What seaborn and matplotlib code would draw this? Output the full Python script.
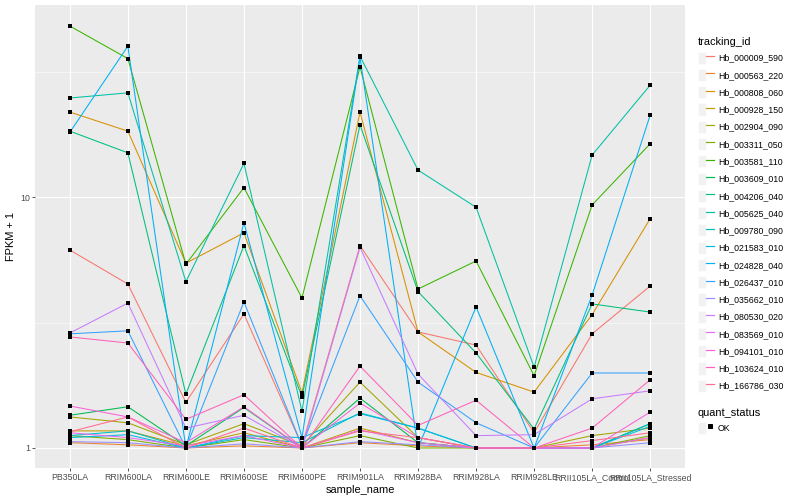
import numpy as np
import pandas as pd
import matplotlib
matplotlib.use('Agg')
import matplotlib.pyplot as plt
from matplotlib.lines import Line2D
from matplotlib.patches import Rectangle
from matplotlib.legend_handler import HandlerTuple
from matplotlib.ticker import NullFormatter
import seaborn as sns

# samples on the x axis, in plot order
samples = ['PB350LA', 'RRIM600LA', 'RRIM600LE', 'RRIM600SE', 'RRIM600PE', 'RRIM901LA',
           'RRIM928BA', 'RRIM928LA', 'RRIM928LE', 'RRII105LA_Control', 'RRII105LA_Stressed']

tracking_ids = ['Hb_000009_590', 'Hb_000563_220', 'Hb_000808_060', 'Hb_000928_150',
                'Hb_002904_090', 'Hb_003311_050', 'Hb_003581_110', 'Hb_003609_010',
                'Hb_004206_040', 'Hb_005625_040', 'Hb_009780_090', 'Hb_021583_010',
                'Hb_024828_040', 'Hb_026437_010', 'Hb_035662_010', 'Hb_080530_020',
                'Hb_083569_010', 'Hb_094101_010', 'Hb_103624_010', 'Hb_166786_030']

# ggplot hue palette for 20 levels
colors = ['#F8766D', '#EA8331', '#D89000', '#C09B00', '#A3A500', '#7CAE00', '#39B600',
          '#00BB4E', '#00BF7D', '#00C1A3', '#00BFC4', '#00BAE0', '#00B0F6', '#35A2FF',
          '#9590FF', '#C77CFF', '#E76BF3', '#FA62DB', '#FF62BC', '#FF6C91']

# FPKM + 1
hb_000009_590 = [6.15, 4.5, 1.52, 3.42, 1.02, 6.4, 2.9, 2.57, 1.15, 2.85, 4.42]
hb_000563_220 = [1.05, 1.03, 1.0, 1.02, 1.0, 1.05, 1.02, 1.0, 1.0, 1.03, 1.08]
hb_000808_060 = [21.8, 18.3, 5.45, 7.2, 1.66, 21.8, 2.9, 2.0, 1.67, 3.4, 8.2]
hb_000928_150 = [1.17, 1.17, 1.02, 1.15, 1.0, 1.2, 1.05, 1.0, 1.0, 1.0, 1.1]
hb_002904_090 = [1.33, 1.26, 1.03, 1.25, 1.02, 1.83, 1.1, 1.0, 1.0, 1.12, 1.2]
hb_003311_050 = [1.12, 1.08, 1.0, 1.08, 1.0, 1.12, 1.0, 1.0, 1.0, 1.0, 1.12]
hb_003581_110 = [48.0, 35.6, 5.4, 10.9, 3.96, 33.0, 4.3, 5.56, 1.94, 9.3, 16.3]
hb_003609_010 = [1.35, 1.46, 1.02, 1.45, 1.0, 1.58, 1.05, 1.0, 1.0, 1.0, 1.25]
hb_004206_040 = [18.3, 15.0, 1.64, 6.4, 1.6, 19.4, 4.2, 2.39, 1.19, 3.75, 3.48]
hb_005625_040 = [24.8, 26.0, 4.6, 13.6, 1.4, 36.4, 12.8, 9.1, 2.1, 14.7, 27.9]
hb_009780_090 = [1.12, 1.17, 1.0, 1.1, 1.05, 1.38, 1.2, 1.0, 1.0, 1.0, 1.25]
hb_021583_010 = [1.1, 1.13, 1.0, 1.12, 1.1, 1.37, 1.2, 1.0, 1.0, 1.0, 1.22]
hb_024828_040 = [18.1, 39.9, 1.0, 7.9, 1.1, 36.0, 1.0, 3.65, 1.0, 4.07, 21.2]
hb_026437_010 = [2.85, 2.93, 1.0, 3.82, 1.02, 4.04, 1.83, 1.26, 1.0, 1.99, 1.99]
hb_035662_010 = [1.06, 1.05, 1.0, 1.04, 1.0, 1.06, 1.03, 1.0, 1.0, 1.0, 1.05]
hb_080530_020 = [2.87, 3.78, 1.2, 1.35, 1.0, 6.3, 1.97, 1.12, 1.13, 1.57, 1.69]
hb_083569_010 = [1.15, 1.1, 1.02, 1.12, 1.0, 1.18, 1.05, 1.0, 1.0, 1.0, 1.1]
hb_094101_010 = [1.47, 1.33, 1.05, 1.46, 1.0, 1.51, 1.1, 1.0, 1.0, 1.0, 1.39]
hb_103624_010 = [2.77, 2.62, 1.3, 1.63, 1.0, 2.12, 1.23, 1.55, 1.0, 1.2, 1.87]
hb_166786_030 = [1.16, 1.33, 1.0, 1.2, 1.0, 1.17, 1.1, 1.0, 1.0, 1.07, 1.15]

series = [hb_000009_590, hb_000563_220, hb_000808_060, hb_000928_150, hb_002904_090,
          hb_003311_050, hb_003581_110, hb_003609_010, hb_004206_040, hb_005625_040,
          hb_009780_090, hb_021583_010, hb_024828_040, hb_026437_010, hb_035662_010,
          hb_080530_020, hb_083569_010, hb_094101_010, hb_103624_010, hb_166786_030]

rows = []
for tid, vals in zip(tracking_ids, series):
    for s, v in zip(samples, vals):
        rows.append({'tracking_id': tid, 'sample_name': s, 'fpkm1': v, 'quant_status': 'OK'})
df = pd.DataFrame(rows)
df['x'] = df['sample_name'].map({s: i for i, s in enumerate(samples)})

plt.rcParams['font.family'] = ['Liberation Sans', 'DejaVu Sans']

fig = plt.figure(figsize=(800 / 72, 500 / 72), dpi=72)
ax = fig.add_axes([35 / 800, 32 / 500, 650 / 800, 463 / 500])
ax.set_facecolor('#EBEBEB')
for sp in ax.spines.values():
    sp.set_visible(False)

sns.lineplot(data=df, x='x', y='fpkm1', hue='tracking_id', hue_order=tracking_ids,
             palette=colors, sort=False, estimator=None, units='tracking_id',
             lw=1.05, legend=False, ax=ax, zorder=2)
sns.scatterplot(data=df, x='x', y='fpkm1', color='black', marker='s', s=13,
                linewidth=0, legend=False, ax=ax, zorder=3)

ax.set_yscale('log')
ax.set_ylim(10 ** -0.0797, 10 ** 1.765)
ax.set_xlim(-0.6, 10.6)
ax.set_xticks(range(len(samples)))
ax.set_xticklabels(samples)
ax.set_yticks([1, 10])
ax.set_yticklabels(['1', '10'])
ax.set_yticks([10 ** 0.5, 10 ** 1.5], minor=True)
ax.yaxis.set_minor_formatter(NullFormatter())
ax.tick_params(axis='both', which='major', length=2.75, width=0.8, color='#333333',
               labelsize=8.8, labelcolor='#4D4D4D', pad=2)
ax.tick_params(axis='both', which='minor', length=0)
ax.set_axisbelow(True)
ax.grid(which='major', color='white', lw=1.1)
ax.grid(which='minor', axis='y', color='white', lw=0.55)
ax.set_xlabel('sample_name', fontsize=11, color='black', labelpad=3)
ax.set_ylabel('FPKM + 1', fontsize=11, color='black', labelpad=4)

# legends in ggplot style: grey key box with the coloured line on top
def key_box():
    return Rectangle((0, 0), 1, 1, facecolor='#F2F2F2', edgecolor='white', lw=0.6)

line_handles = [(key_box(), Line2D([0], [0], color=c, lw=1.2)) for c in colors]
leg1 = fig.legend(line_handles, tracking_ids, title='tracking_id', loc='upper left',
                  bbox_to_anchor=(694 / 800, 1 - 33 / 500), frameon=False,
                  fontsize=8.8, title_fontsize=11, handlelength=1.85, handleheight=1.75,
                  handletextpad=0.45, labelspacing=0.58, borderaxespad=0,
                  handler_map={tuple: HandlerTuple(ndivide=None, pad=0)})
leg1._legend_box.align = 'left'
pt_handle = [(key_box(), Line2D([0], [0], color='black', marker='s', ms=3.5, lw=0))]
leg2 = fig.legend(pt_handle, ['OK'], title='quant_status', loc='upper left',
                  bbox_to_anchor=(694 / 800, 1 - 404 / 500), frameon=False,
                  fontsize=8.8, title_fontsize=11, handlelength=1.85, handleheight=1.75,
                  handletextpad=0.45, borderaxespad=0,
                  handler_map={tuple: HandlerTuple(ndivide=None, pad=0)})
leg2._legend_box.align = 'left'

fig.savefig('out.png', dpi=72)
